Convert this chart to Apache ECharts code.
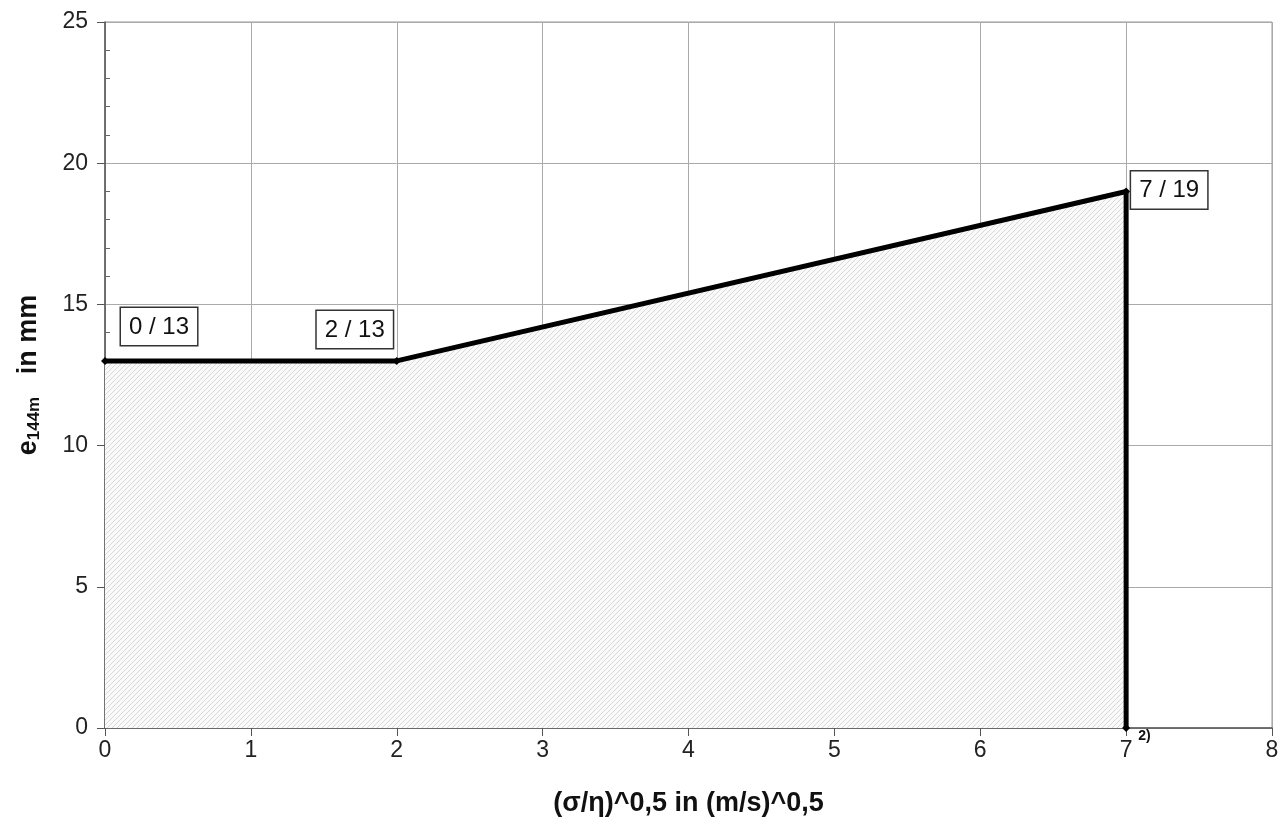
<!DOCTYPE html>
<html>
<head>
<meta charset="utf-8">
<script src="https://cdn.jsdelivr.net/npm/echarts@6/dist/echarts.min.js"></script>
<style>
  html, body { margin: 0; padding: 0; background: #fff; }
  #main { width: 1282px; height: 826px; }
</style>
</head>
<body>
<div id="main"></div>
<script>
// data
var xValues = [0, 2, 7, 7];
var yValues = [13, 13, 19, 0];
var pointLabels = ['0 / 13', '2 / 13', '7 / 19', '2)'];
var xTicks = [0, 1, 2, 3, 4, 5, 6, 7, 8];
var yTicks = [0, 5, 10, 15, 20, 25];

var FONT = 'Liberation Sans, Arial, sans-serif';

// light diagonal hatch for the area
function makeHatch() {
    var c = document.createElement('canvas');
    c.width = 5;
    c.height = 5;
    var ctx = c.getContext('2d');
    ctx.fillStyle = '#fafafa';
    ctx.fillRect(0, 0, 5, 5);
    ctx.strokeStyle = '#d4d4d4';
    ctx.lineWidth = 0.9;
    ctx.beginPath();
    ctx.moveTo(-1, 6); ctx.lineTo(6, -1);
    ctx.moveTo(-1, 1); ctx.lineTo(1, -1);
    ctx.moveTo(4, 6); ctx.lineTo(6, 4);
    ctx.stroke();
    return c;
}

var labelOffsets = [[20, -49], [-76, -46], [9, -16], [16, 5]];

var seriesData = xValues.map(function (x, i) {
    var boxed = i < 3;
    return {
        value: [x, yValues[i]],
        label: {
            show: true,
            formatter: pointLabels[i],
            position: labelOffsets[i],
            color: '#111',
            fontFamily: FONT,
            fontSize: boxed ? 24 : 14,
            fontWeight: boxed ? 'normal' : 'bold',
            padding: boxed ? [7, 8, 6, 8] : 0,
            borderColor: boxed ? '#333' : 'transparent',
            borderWidth: boxed ? 1.5 : 0,
            backgroundColor: boxed ? '#fff' : 'transparent'
        }
    };
});

var myChart = echarts.init(document.getElementById('main'));

var option = {
    animation: false,
    backgroundColor: '#fff',
    grid: {
        left: 105,
        right: 10,
        top: 22,
        bottom: 98,
        show: true,
        borderColor: '#999',
        borderWidth: 1
    },
    xAxis: {
        type: 'value',
        min: xTicks[0],
        max: xTicks[xTicks.length - 1],
        interval: 1,
        name: '(σ/η)^0,5 in (m/s)^0,5',
        nameLocation: 'middle',
        nameGap: 62,
        nameTextStyle: {
            fontFamily: FONT,
            fontSize: 27,
            fontWeight: 'bold',
            color: '#111'
        },
        axisLine: { lineStyle: { color: '#555', width: 1.5 } },
        axisTick: { show: true, length: 8, lineStyle: { color: '#555' } },
        axisLabel: {
            fontFamily: FONT,
            fontSize: 23,
            color: '#222',
            margin: 11
        },
        splitLine: { show: true, lineStyle: { color: '#aaa', width: 1 } }
    },
    yAxis: [{
        type: 'value',
        min: yTicks[0],
        max: yTicks[yTicks.length - 1],
        interval: 5,
        name: '{e|e}{sub|144m}{e|   in mm}',
        nameLocation: 'middle',
        nameRotate: 90,
        nameGap: 62,
        nameTextStyle: {
            fontFamily: FONT,
            color: '#111',
            rich: {
                e: { fontSize: 27, fontWeight: 'bold', fontFamily: FONT, color: '#111' },
                sub: { fontSize: 17, fontWeight: 'bold', fontFamily: FONT, color: '#111', padding: [12, 0, 0, 0] }
            }
        },
        axisLine: { show: true, lineStyle: { color: '#555', width: 1.5 } },
        axisTick: { show: true, length: 8, lineStyle: { color: '#555' } },
        axisLabel: {
            fontFamily: FONT,
            fontSize: 23,
            color: '#222',
            margin: 17
        },
        splitLine: { show: true, lineStyle: { color: '#aaa', width: 1 } }
    }, {
        // overlay axis only for the small inside ticks
        type: 'value',
        position: 'left',
        min: yTicks[0],
        max: yTicks[yTicks.length - 1],
        interval: 5,
        axisLine: { show: false },
        axisTick: { show: false, inside: true },
        minorTick: { show: true, splitNumber: 5, length: 5, lineStyle: { color: '#666' } },
        axisLabel: { show: false },
        splitLine: { show: false }
    }],
    series: [{
        type: 'line',
        data: seriesData,
        symbol: 'diamond',
        symbolSize: 8,
        itemStyle: { color: '#000' },
        lineStyle: { color: '#000', width: 5 },
        areaStyle: {
            color: { image: makeHatch(), repeat: 'repeat' },
            opacity: 1
        },
        z: 3
    }]
};

myChart.setOption(option);
</script>
</body>
</html>
